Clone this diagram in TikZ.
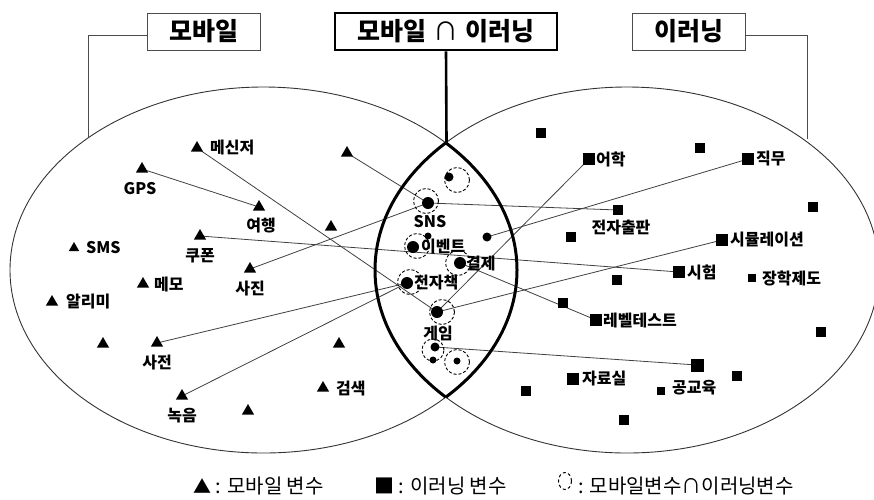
\documentclass[tikz,border=0pt]{standalone}
\usepackage{fontspec}
\setmainfont{Noto Sans CJK KR}
\newfontfamily\krblack{Noto Sans CJK KR Black}
\usetikzlibrary{shapes.geometric}
\pgfdeclarelayer{background}
\pgfsetlayers{background,main}
\begin{document}
\begin{tikzpicture}[x=1pt,y=-1pt,
  tri/.style={regular polygon,regular polygon sides=3,fill=black,inner sep=0pt,minimum size=14pt},
  sqL/.style={rectangle,fill=black,inner sep=0pt,minimum size=12pt},
  sqM/.style={rectangle,fill=black,inner sep=0pt,minimum size=10pt},
  sqS/.style={rectangle,fill=black,inner sep=0pt,minimum size=8pt},
  dotL/.style={circle,fill=black,inner sep=0pt,minimum size=12pt},
  dotM/.style={circle,fill=black,inner sep=0pt,minimum size=9pt},
  dotS/.style={circle,fill=black,inner sep=0pt,minimum size=7pt},
  dcirc/.style={circle,draw=black,dash pattern=on 3pt off 2pt,line width=0.9pt,inner sep=0pt,minimum size=25pt},
  lbl/.style={font=\fontsize{16}{18}\krblack,inner sep=0pt},
  conn/.style={draw=black!75,line width=0.8pt},
  ell/.style={draw=black!80,line width=0.9pt},
  lens/.style={draw=black,line width=3pt},
  title/.style={draw=black!70,line width=1pt,minimum width=113pt,minimum height=37pt,font=\fontsize{25}{28}\krblack,inner sep=0pt},
  legend/.style={font=\fontsize{20}{22}\selectfont,inner sep=0pt,anchor=west}
]
\useasboundingbox (0,0) rectangle (874,499);

% ellipses
\draw[ell] (263.5,270) ellipse [x radius=253.5pt,y radius=183pt];
\draw[ell] (627,270) ellipse [x radius=252pt,y radius=183pt];
% lens
\begin{scope}
\clip (627,270) ellipse [x radius=252pt,y radius=183pt];
\draw[lens] (263.5,270) ellipse [x radius=253.5pt,y radius=183pt];
\end{scope}
\begin{scope}
\clip (263.5,270) ellipse [x radius=253.5pt,y radius=183pt];
\draw[lens] (627,270) ellipse [x radius=252pt,y radius=183pt];
\end{scope}

% titles
\node[title] (mob) at (203.5,31.5) {모바일};
\node[title] (eln) at (688.5,31.5) {이러닝};
\node[title,draw=black,line width=2.6pt,minimum width=222pt] (mid) at (446,31.5) {모바일\hspace{7pt}{\normalfont\fontsize{25}{28}\selectfont ∩}\hspace{7pt}이러닝};
\coordinate (mobE) at (88,138);
\coordinate (elnE) at (807,139);
\coordinate (lensTop) at (446.5,142);
\draw[black!70,line width=1pt] ([yshift=-4pt]mob.west) -| (mobE);
\draw[black!70,line width=1pt] ([yshift=-4pt]eln.east) -| (elnE);
\draw[line width=2.6pt] (mid.south) -- (lensTop);

% mobile triangles
\node[tri] (msg) at (197,148) {};
\node[lbl,anchor=west] (msgL) at (210,148) {메신저};
\node[tri] (t1) at (347,153) {};
\node[tri] (gps) at (142,169) {};
\node[lbl] (gpsL) at (140,189) {GPS};
\node[tri] (trip) at (259,207) {};
\node[lbl] (tripL) at (261,226) {여행};
\node[tri] (t2) at (331,227) {};
\node[tri] (coupon) at (200,236) {};
\node[lbl] (couponL) at (200,256) {쿠폰};
\node[tri,minimum size=12pt] (sms) at (74,248) {};
\node[lbl,anchor=west] (smsL) at (86,248) {SMS};
\node[tri] (photo) at (250,269) {};
\node[lbl] (photoL) at (250,289) {사진};
\node[tri] (memo) at (143,284) {};
\node[lbl,anchor=west] (memoL) at (154,284) {메모};
\node[tri] (alarm) at (52,302) {};
\node[lbl,anchor=west] (alarmL) at (66,302) {알리미};
\node[tri] (t3) at (103,344) {};
\node[tri] (dict) at (157,343) {};
\node[lbl] (dictL) at (157,363) {사전};
\node[tri] (t4) at (339,344) {};
\node[tri] (search) at (323,388) {};
\node[lbl,anchor=west] (searchL) at (336,388) {검색};
\node[tri] (rec) at (182,396) {};
\node[lbl] (recL) at (182,416) {녹음};
\node[tri] (t5) at (248,411) {};

% e-learning squares
\node[sqM] (s1) at (541,133) {};
\node[sqM] (s2) at (700,148) {};
\node[sqL] (lang) at (589,159) {};
\node[lbl,anchor=west] (langL) at (596,159) {어학};
\node[sqL] (job) at (748,159) {};
\node[lbl,anchor=west] (jobL) at (756,159) {직무};
\node[sqM] (s3) at (813,207) {};
\node[sqM] (epub) at (618,210) {};
\node[lbl] (epubL) at (621,228) {전자출판};
\node[sqM] (s4) at (571,237) {};
\node[sqL] (sim) at (722,240) {};
\node[lbl,anchor=west] (simL) at (730,240) {시뮬레이션};
\node[sqL] (exam) at (679,272) {};
\node[lbl,anchor=west] (examL) at (687,272) {시험};
\node[sqS] (sch) at (752,278) {};
\node[lbl,anchor=west] (schL) at (762,278) {장학제도};
\node[sqM] (s5) at (617,280) {};
\node[sqM] (s6) at (563,303) {};
\node[sqL] (level) at (596,320) {};
\node[lbl,anchor=west] (levelL) at (603,320) {레벨테스트};
\node[sqM] (s7) at (821,332) {};
\node[sqL,minimum size=13pt] (pub) at (697,365) {};
\node[sqS] (pubsq) at (661,391) {};
\node[lbl,anchor=west] (pubL) at (672,388) {공교육};
\node[sqM] (s8) at (737,376) {};
\node[sqL] (arch) at (573,379) {};
\node[lbl,anchor=west] (archL) at (582,379) {자료실};
\node[sqM] (s9) at (526,391) {};
\node[sqM] (s10) at (624,420) {};

% intersection items
\node[dcirc] (c1) at (457,180) {};
\node[dotM] (u1) at (449,177) {};
\node[dcirc] (c2) at (426,201) {};
\node[dotL] (sns) at (428,203) {};
\node[lbl] (snsL) at (430,222) {SNS};
\node[dotS] (u2) at (428,236) {};
\node[dcirc] (c3) at (417,246) {};
\node[dotL] (evt) at (413,247) {};
\node[lbl,anchor=west] (evtL) at (421,247) {이벤트};
\node[dotM] (d1) at (487,237) {};
\node[dcirc] (c4) at (458,263) {};
\node[dotL] (pay) at (460,263) {};
\node[lbl,anchor=west] (payL) at (466,263) {결제};
\node[dcirc] (c5) at (410,282) {};
\node[dotL] (ebook) at (407,283) {};
\node[lbl,anchor=west] (ebookL) at (414,283) {전자책};
\node[dcirc] (c6) at (442,312) {};
\node[dotL] (game) at (437,312) {};
\node[lbl] (gameL) at (438,333) {게임};
\node[dcirc,minimum size=22pt] (c7) at (433,350) {};
\node[dotM] (d5) at (435,347) {};
\node[dotS] (u3) at (433,360) {};
\node[dcirc] (c8) at (457,362) {};
\node[dotS] (u4) at (457,361) {};

% connectors
\begin{pgfonlayer}{background}
\draw[conn] (msg.center) -- (game.center);
\draw[conn] (gps.center) -- (trip.center);
\draw[conn] (t1.center) -- (sns.center);
\draw[conn] (sns.center) -- (photo.center);
\draw[conn] (coupon.center) -- (exam.center);
\draw[conn] (sns.center) -- (epub.center);
\draw[conn] (d1.center) -- (job.center);
\draw[conn] (pay.center) -- (level.center);
\draw[conn] (ebook.center) -- (dict.center);
\draw[conn] (ebook.center) -- (rec.center);
\draw[conn] (game.center) -- (lang.center);
\draw[conn] (game.center) -- (sim.center);
\draw[conn] (d5.center) -- (pub.center);
\end{pgfonlayer}

% legend
\node[legend] (lg1) at (193,486) {{\fontsize{18}{20}\selectfont ▲} : 모바일 변수};
\node[legend] (lg2) at (374,486) {■ : 이러닝 변수};
\node[ellipse,draw=black,dash pattern=on 3pt off 2.5pt,line width=1pt,inner sep=0pt,minimum width=13pt,minimum height=17pt] (lgc) at (565,481) {};
\node[legend] (lg3) at (578,486) {: 모바일변수∩이러닝변수};
\end{tikzpicture}
\end{document}
